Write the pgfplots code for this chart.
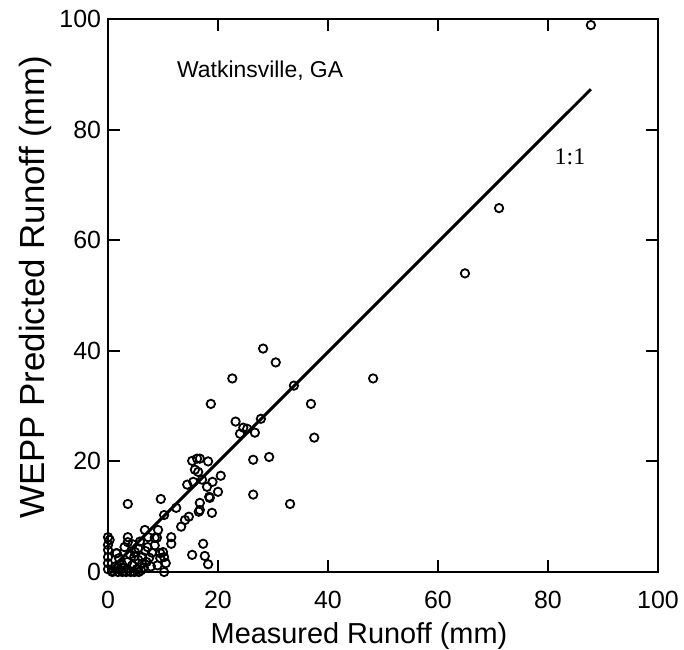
\documentclass[border=0pt]{standalone}
\usepackage{fontspec}
\setmainfont{Liberation Sans}
\newfontfamily\serifft{Liberation Serif}
\usepackage{pgfplots}
\pgfplotsset{compat=1.18}
\begin{document}
\begin{tikzpicture}
\begin{axis}[
  scale only axis,
  width=275bp, height=276.5bp,
  xmin=0, xmax=100, ymin=0, ymax=100,
  xtick={0,20,...,100}, ytick={0,20,...,100},
  tick align=inside, ticks=both,
  major tick length=6bp,
  axis line style={line width=1.3bp},
  tick style={line width=1bp, black},
  /pgf/number format/assume math mode=true,
  ticklabel style={font=\fontsize{12.5}{14}\selectfont},
  xticklabel style={yshift=-6bp},
  xlabel={Measured Runoff (mm)},
  ylabel={WEPP Predicted Runoff (mm)},
  xlabel style={font=\fontsize{14.5}{17}\selectfont, yshift=0bp, xshift=-12bp},
  ylabel style={font=\fontsize{17.5}{20}\selectfont, yshift=-3bp, xshift=4bp},
  clip=false,
]
% 1:1 line
\addplot[black, line width=1.5bp, no marks] coordinates {(0.5,0.5) (87.8,87.3)};
% measured vs predicted events
\addplot[only marks, mark=o, mark size=2.1bp, mark options={line width=0.9bp, black}] coordinates {
(87.8,98.9) (71.1,65.8) (64.9,54.0) (48.2,35.0)
(28.2,40.4) (30.5,37.9) (22.6,35.0) (33.8,33.7)
(18.7,30.4) (36.9,30.4) (23.2,27.2) (27.8,27.7)
(24.6,26.1) (25.3,25.9) (24.0,25.0) (26.7,25.2) (37.5,24.3)
(29.3,20.8) (26.4,20.3) (18.2,20.0) (16.7,20.5) (15.3,20.1) (16.2,20.5)
(15.8,18.5) (16.4,18.1) (20.5,17.4) (19.0,16.3) (17.1,16.7) (15.5,16.3) (14.4,15.8)
(18.0,15.4) (20.0,14.5) (18.4,13.6) (26.4,14.0) (33.1,12.3) (18.5,13.4)
(18.9,10.7) (16.7,12.5) (16.7,11.2) (16.5,10.9)
(3.6,12.3) (9.6,13.2) (12.4,11.6) (10.2,10.3)
(14.7,10.0) (14.0,9.4) (13.3,8.2)
(6.7,7.6) (9.1,7.6) (8.9,6.2) (11.5,6.3) (11.5,5.1) (7.3,6.3) (8.5,6.2)
(3.6,6.3) (3.6,5.4) (0,6.3) (0.3,5.8) (0,4.9) (0,4.0) (0,2.7) (0,1.6) (0,0.5)
(1.6,3.4) (9.5,3.4) (10.0,3.6) (10.2,2.7) (10.5,1.6) (10.2,0)
(17.3,5.1) (17.6,2.9) (18.2,1.4) (15.3,3.1)
(0.8,0) (1.3,1.0) (1.8,0) (2.2,0.4) (2.6,0) (3.0,0.8) (3.3,0) (3.7,0.3)
(4.1,0) (4.4,1.2) (4.8,0) (5.2,0.5) (5.6,0) (6.0,0.3) (6.2,1.5)
(5.5,2.2) (4.8,2.8) (4.0,3.2) (3.5,1.8) (2.5,1.5) (2.0,2.5) (1.5,3.4)
(5.5,4.3) (6.2,2.7) (4.9,3.6) (7.0,1.8) (7.5,2.6) (8.0,3.5) (6.8,3.8)
(5.8,5.5) (4.5,5.0) (7.2,4.5) (8.5,4.8) (9.5,2.5) (3.0,4.5) (2.5,0.8)
(1.0,0.2) (6.5,0.8) (7.8,1.0) (9.0,1.2)
};
\node[anchor=west, font=\fontsize{11.5}{13}\selectfont] at (axis cs:11.3,90.6) {Watkinsville, GA};
\node[font=\serifft\fontsize{12}{14}\selectfont] at (axis cs:84,75) {1:1};
\end{axis}
\pgfresetboundingbox
\path[use as bounding box] (current axis.south west) ++(-54bp,-39bp) rectangle ([xshift=13bp,yshift=9.5bp]current axis.north east);
\end{tikzpicture}
\end{document}
